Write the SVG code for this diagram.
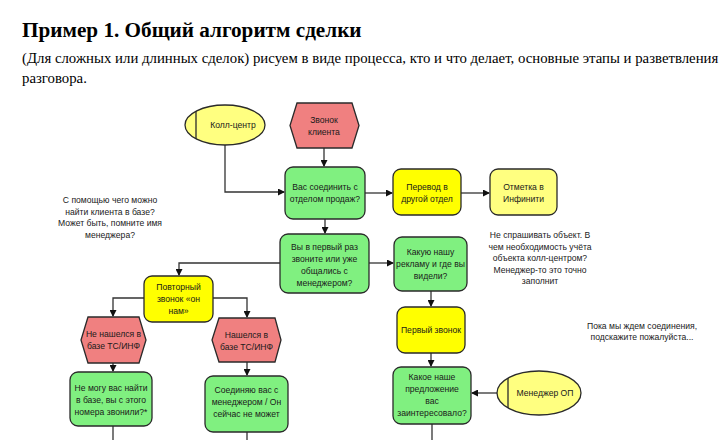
<svg xmlns="http://www.w3.org/2000/svg" width="728" height="440" viewBox="0 0 728 440">
<style>
.t{font-family:"Liberation Sans",Arial,sans-serif;font-size:8.6px;fill:#1a1a1a;text-anchor:middle}
.g{fill:#80f080;stroke:#2a2a2a;stroke-width:1.3}
.y{fill:#ffff00;stroke:#2a2a2a;stroke-width:1.3}
.ly{fill:#ffff80;stroke:#2a2a2a;stroke-width:1.3}
.r{fill:#f08080;stroke:#2a2a2a;stroke-width:1.3}
.c{fill:none;stroke:#333;stroke-width:1.3}
.h{font-family:"Liberation Serif","Times New Roman",serif;fill:#000}
</style>
<defs>
<marker id="a" markerWidth="7" markerHeight="7" refX="6" refY="3.5" orient="auto" markerUnits="userSpaceOnUse">
<path d="M0,0 L7,3.5 L0,7 z" fill="#111"/>
</marker>
</defs>
<rect width="728" height="440" fill="#fff"/>
<text class="h" x="22" y="37" font-size="21.2" font-weight="bold">Пример 1. Общий алгоритм сделки</text>
<text class="h" x="22" y="63" font-size="14.8">(Для сложных или длинных сделок) рисуем в виде процесса, кто и что делает, основные этапы и разветвления</text>
<text class="h" x="22" y="83" font-size="14.8">разговора.</text>

<g id="connectors">
<path class="c" d="M324,148 V166" marker-end="url(#a)"/>
<path class="c" d="M225,145 V192 H284" marker-end="url(#a)"/>
<path class="c" d="M365,193 H392" marker-end="url(#a)"/>
<path class="c" d="M461,193 H489" marker-end="url(#a)"/>
<path class="c" d="M325,219 V233" marker-end="url(#a)"/>
<path class="c" d="M369,263 H393" marker-end="url(#a)"/>
<path class="c" d="M280,263 H179 V275" marker-end="url(#a)"/>
<path class="c" d="M144,298 H113 V316" marker-end="url(#a)"/>
<path class="c" d="M213,298 H247 V317" marker-end="url(#a)"/>
<path class="c" d="M113,363 V371" marker-end="url(#a)"/>
<path class="c" d="M247,362 V375" marker-end="url(#a)"/>
<path class="c" d="M431,291 V306" marker-end="url(#a)"/>
<path class="c" d="M431,353 V366" marker-end="url(#a)"/>
<path class="c" d="M497,393 H472" marker-end="url(#a)"/>
<path class="c" d="M113,426 V440"/>
<path class="c" d="M247,432 V440"/>
<path class="c" d="M432,424 V440"/>
</g>

<g id="call-center">
<ellipse class="ly" cx="225" cy="125" rx="40" ry="20"/>
<line x1="196" y1="111" x2="196" y2="139" stroke="#2a2a2a" stroke-width="1.3"/>
<text class="t" x="233" y="128">Колл-центр</text>
</g>

<g id="client-call">
<polygon class="r" points="297,103 352,103 359,125.5 352,148 297,148 290,125.5"/>
<text class="t" x="324" y="123">Звонок</text>
<text class="t" x="324" y="135">клиента</text>
</g>

<g id="connect-sales">
<rect class="g" x="285" y="167" width="80" height="52" rx="8"/>
<text class="t" x="325" y="190">Вас соединить с</text>
<text class="t" x="325" y="202">отделом продаж?</text>
</g>

<g id="transfer">
<rect class="y" x="393" y="169" width="68" height="46" rx="8"/>
<text class="t" x="427" y="190">Перевод в</text>
<text class="t" x="427" y="202">другой отдел</text>
</g>

<g id="infiniti">
<rect class="ly" x="490" y="169" width="67" height="46" rx="8"/>
<text class="t" x="523.5" y="190">Отметка в</text>
<text class="t" x="523.5" y="202">Инфинити</text>
</g>

<g id="first-time">
<rect class="g" x="280" y="234" width="89" height="59" rx="8"/>
<text class="t" x="324.5" y="250">Вы в первый раз</text>
<text class="t" x="324.5" y="262">звоните или уже</text>
<text class="t" x="324.5" y="274">общались с</text>
<text class="t" x="324.5" y="286">менеджером?</text>
</g>

<g id="ad">
<rect class="g" x="394" y="237" width="73" height="54" rx="8"/>
<text class="t" x="430.5" y="255">Какую нашу</text>
<text class="t" x="430.5" y="267">рекламу и где вы</text>
<text class="t" x="430.5" y="279">видели?</text>
</g>

<g id="repeat-call">
<rect class="y" x="144" y="276" width="69" height="46" rx="8"/>
<text class="t" x="178.5" y="290">Повторный</text>
<text class="t" x="178.5" y="302">звонок «он</text>
<text class="t" x="178.5" y="314">нам»</text>
</g>

<g id="not-found">
<polygon class="r" points="88,317 139,317 146,340 139,363 88,363 81,340"/>
<text class="t" x="113.5" y="337">Не нашелся в</text>
<text class="t" x="113.5" y="349">базе ТС/ИНФ</text>
</g>

<g id="found">
<polygon class="r" points="219,318 275,318 281,340 275,362 219,362 212,340"/>
<text class="t" x="246.5" y="338">Нашелся в</text>
<text class="t" x="246.5" y="350">базе ТС/ИНФ</text>
</g>

<g id="cant-find">
<rect class="g" x="70" y="372" width="82" height="54" rx="8"/>
<text class="t" x="111" y="391">Не могу вас найти</text>
<text class="t" x="111" y="403">в базе, вы с этого</text>
<text class="t" x="111" y="415">номера звонили?*</text>
</g>

<g id="connecting">
<rect class="g" x="205" y="376" width="83" height="56" rx="8"/>
<text class="t" x="246.5" y="393">Соединяю вас с</text>
<text class="t" x="246.5" y="405">менеджером / Он</text>
<text class="t" x="246.5" y="417">сейчас не может</text>
</g>

<g id="first-call">
<rect class="y" x="397" y="307" width="68" height="46" rx="8"/>
<text class="t" x="431" y="333">Первый звонок</text>
</g>

<g id="offer">
<rect class="g" x="393" y="367" width="78" height="57" rx="8"/>
<text class="t" x="432" y="380">Какое наше</text>
<text class="t" x="432" y="392">предложение</text>
<text class="t" x="432" y="404">вас</text>
<text class="t" x="432" y="416">заинтересовало?</text>
</g>

<g id="manager-op">
<ellipse class="ly" cx="539" cy="393" rx="42" ry="22"/>
<line x1="508" y1="378" x2="508" y2="408" stroke="#2a2a2a" stroke-width="1.3"/>
<text class="t" x="545" y="396">Менеджер ОП</text>
</g>

<g id="note-search">
<text class="t" x="110" y="203">С помощью чего можно</text>
<text class="t" x="110" y="214.5">найти клиента в базе?</text>
<text class="t" x="110" y="226">Может быть, помните имя</text>
<text class="t" x="110" y="237.5">менеджера?</text>
</g>

<g id="note-object">
<text class="t" x="540" y="238">Не спрашивать объект. В</text>
<text class="t" x="540" y="249.5">чем необходимость учёта</text>
<text class="t" x="540" y="261">объекта колл-центром?</text>
<text class="t" x="540" y="272.5">Менеджер-то это точно</text>
<text class="t" x="540" y="284">заполнит</text>
</g>

<g id="note-wait">
<text class="t" x="642" y="329">Пока мы ждем соединения,</text>
<text class="t" x="642" y="340">подскажите пожалуйста...</text>
</g>
</svg>
